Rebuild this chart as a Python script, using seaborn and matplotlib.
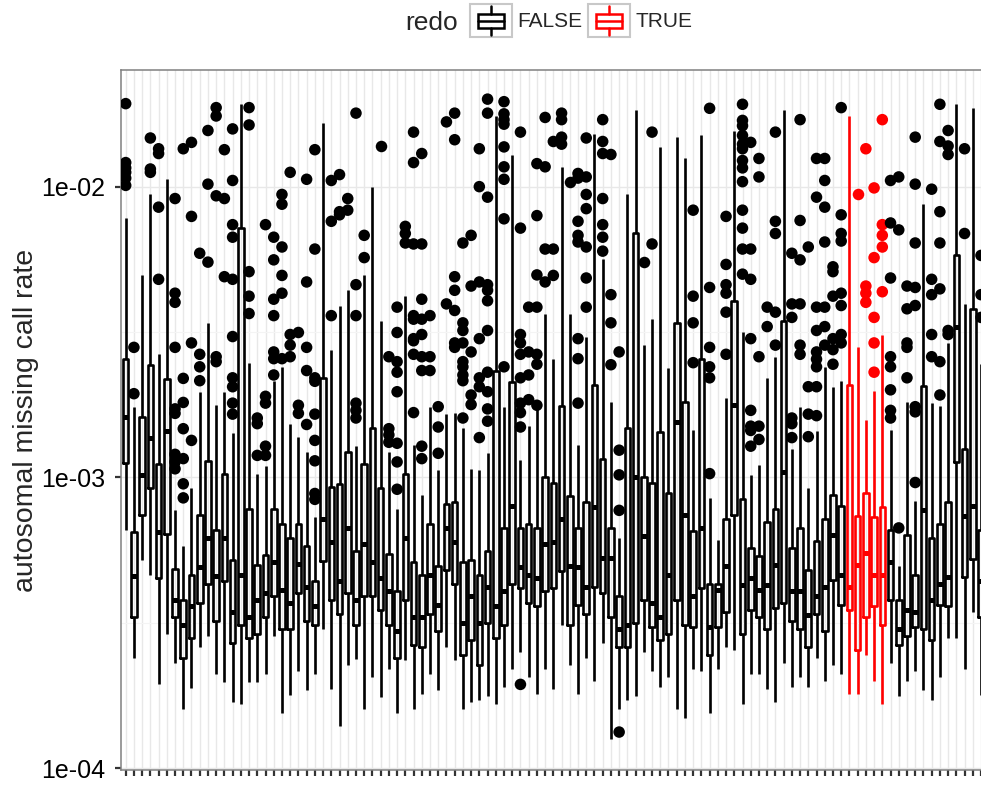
import numpy as np
import pandas as pd
import matplotlib
matplotlib.use("Agg")
import matplotlib.pyplot as plt
import seaborn as sns
from matplotlib.patches import Patch, Rectangle
from matplotlib.lines import Line2D
from matplotlib.legend_handler import HandlerBase
from matplotlib.ticker import FixedLocator, NullFormatter

# ---------------- data ----------------
batches = [f"batch{i + 1:03d}" for i in range(105)]
redo = ["FALSE"] * 88 + ["TRUE"] * 5 + ["FALSE"] * 12

whisker_high = [
    7.8e-3, 1.75e-3, 4.98e-3, 9.4e-3, 2.65e-3, 1.06e-2, 7.7e-4, 5.8e-4, 9.2e-4, 1.97e-3,
    3.4e-3, 1.77e-3, 1.96e-3, 1.42e-3, 1.92e-2, 2.48e-3, 1.03e-3, 1.09e-3, 2.15e-3, 2.4e-3,
    1.52e-3, 1.38e-3, 1.22e-3, 7.3e-4, 1.66e-2, 2.75e-3, 3.9e-3, 4.4e-3, 1.28e-3, 4.98e-3,
    1.0e-2, 3.45e-3, 1.22e-3, 7.8e-4, 4.2e-3, 1.29e-3, 8.7e-4, 1.74e-3, 1.06e-3, 1.65e-3,
    1.67e-3, 1.48e-3, 1.07e-3, 1.06e-3, 1.21e-3, 1.75e-2, 1.74e-3, 1.28e-2, 1.15e-3, 1.5e-3,
    1.72e-3, 3.65e-3, 2.56e-3, 1.17e-2, 3.65e-3, 1.29e-3, 3.05e-3, 1.52e-2, 5.65e-3, 1.82e-3,
    6.2e-4, 9.4e-3, 1.84e-2, 2.85e-3, 3.5e-3, 1.37e-2, 2.37e-3, 1.48e-2, 1.25e-2, 1.46e-3,
    1.5e-2, 8.5e-4, 6.1e-4, 1.88e-3, 1.56e-2, 3.15e-3, 1.02e-3, 1.1e-3, 2.2e-3, 2.6e-3,
    1.83e-2, 1.25e-3, 1.74e-3, 9.2e-4, 1.44e-3, 2.4e-3, 2.05e-3, 2.15e-3, 1.75e-2, 2.8e-3,
    1.58e-3, 1.98e-3, 3.1e-3, 1.46e-3, 4.95e-4, 1.82e-3, 8.3e-4, 8.7e-3, 1.8e-3, 1.76e-3,
    2.9e-3, 1.92e-2, 3.95e-3, 1.86e-2, 2.45e-3,
]
upper_quartile = [
    2.56e-3, 6.5e-4, 1.61e-3, 2.43e-3, 1.11e-3, 2.18e-3, 4.85e-4, 3.8e-4, 4.6e-4, 7.4e-4,
    1.14e-3, 6.6e-4, 1.03e-3, 5.2e-4, 7.2e-3, 7.8e-4, 5.0e-4, 5.4e-4, 7.8e-4, 6.9e-4,
    6.2e-4, 6.9e-4, 5.8e-4, 4.4e-4, 2.2e-3, 9.3e-4, 9.5e-4, 1.22e-3, 5.6e-4, 1.11e-3,
    1.48e-3, 9.2e-4, 5.45e-4, 4.05e-4, 1.03e-3, 5.1e-4, 4.6e-4, 6.9e-4, 4.95e-4, 8.1e-4,
    8.2e-4, 5.1e-4, 5.2e-4, 4.6e-4, 5.6e-4, 2.33e-3, 6.7e-4, 2.12e-3, 6.7e-4, 6.9e-4,
    6.7e-4, 1.0e-3, 9.6e-4, 1.76e-3, 8.6e-4, 6.7e-4, 8.2e-4, 2.08e-3, 1.16e-3, 6.7e-4,
    3.9e-4, 1.48e-3, 6.9e-3, 1.0e-3, 9.6e-4, 1.43e-3, 8.8e-4, 3.4e-3, 1.82e-3, 6.55e-4,
    2.56e-3, 4.3e-4, 4.3e-4, 7.2e-4, 4.05e-3, 8.4e-4, 5.7e-4, 5.35e-4, 7.0e-4, 7.8e-4,
    3.45e-3, 5.7e-4, 6.7e-4, 4.8e-4, 6.05e-4, 7.2e-4, 8.7e-4, 8.0e-4, 2.08e-3, 7.35e-4,
    8.85e-4, 7.3e-4, 7.9e-4, 6.6e-4, 3.8e-4, 6.35e-4, 4.6e-4, 2.06e-3, 6.2e-4, 6.9e-4,
    8.2e-4, 5.8e-3, 1.25e-3, 3.8e-3, 6.6e-4,
]
median = [
    1.61e-3, 4.56e-4, 1.02e-3, 1.37e-3, 6.5e-4, 1.44e-3, 3.8e-4, 3.1e-4, 3.6e-4, 4.9e-4,
    6.2e-4, 4.56e-4, 6.2e-4, 3.45e-4, 4.6e-4, 3.3e-4, 3.8e-4, 4.0e-4, 5.1e-4, 4.1e-4,
    3.7e-4, 5.05e-4, 4.2e-4, 3.6e-4, 7.2e-4, 6.0e-4, 4.4e-4, 6.7e-4, 3.8e-4, 5.9e-4,
    5.1e-4, 4.5e-4, 4.05e-4, 2.95e-4, 6.2e-4, 3.3e-4, 3.3e-4, 4.6e-4, 3.65e-4, 6.7e-4,
    6.0e-4, 3.15e-4, 3.9e-4, 3.15e-4, 4.2e-4, 3.6e-4, 4.05e-4, 8.0e-4, 4.9e-4, 4.6e-4,
    4.5e-4, 5.9e-4, 6.0e-4, 7.2e-4, 4.95e-4, 4.9e-4, 4.2e-4, 7.9e-4, 5.3e-4, 5.3e-4,
    3.0e-4, 3.1e-4, 1.0e-3, 6.3e-4, 3.7e-4, 3.3e-4, 4.6e-4, 1.55e-3, 7.4e-4, 3.9e-4,
    6.7e-4, 3.05e-4, 4.1e-4, 4.95e-4, 1.78e-3, 4.25e-4, 4.5e-4, 4.1e-4, 4.25e-4, 5.0e-4,
    1.04e-3, 4.05e-4, 4.05e-4, 3.35e-4, 3.9e-4, 4.2e-4, 6.35e-4, 4.6e-4, 4.2e-4, 5.0e-4,
    5.5e-4, 4.6e-4, 4.6e-4, 5.1e-4, 3.0e-4, 3.5e-4, 3.45e-4, 7.7e-4, 3.8e-4, 4.3e-4,
    4.55e-4, 3.3e-3, 7.35e-4, 8.0e-4, 4.4e-4,
]
lower_quartile = [
    1.12e-3, 3.3e-4, 7.4e-4, 9.2e-4, 4.5e-4, 6.4e-4, 3.3e-4, 2.4e-4, 2.8e-4, 3.7e-4,
    4.3e-4, 3.2e-4, 4.4e-4, 2.7e-4, 3.1e-4, 2.8e-4, 2.9e-4, 3.3e-4, 3.9e-4, 3.0e-4,
    3.0e-4, 4.0e-4, 3.2e-4, 3.1e-4, 5.15e-4, 3.8e-4, 3.4e-4, 4.0e-4, 3.1e-4, 3.9e-4,
    3.9e-4, 3.5e-4, 3.1e-4, 2.4e-4, 3.8e-4, 2.65e-4, 2.6e-4, 3.4e-4, 2.95e-4, 4.8e-4,
    4.3e-4, 2.45e-4, 2.75e-4, 2.27e-4, 3.15e-4, 2.8e-4, 3.1e-4, 4.3e-4, 4.15e-4, 3.7e-4,
    3.6e-4, 4.05e-4, 4.15e-4, 4.75e-4, 3.1e-4, 3.65e-4, 3.4e-4, 4.2e-4, 4.0e-4, 3.3e-4,
    2.6e-4, 2.6e-4, 3.15e-4, 3.8e-4, 3.05e-4, 2.75e-4, 2.9e-4, 3.8e-4, 3.1e-4, 3.05e-4,
    4.15e-4, 2.45e-4, 3.05e-4, 3.45e-4, 7.4e-4, 2.9e-4, 3.5e-4, 3.3e-4, 3.0e-4, 3.55e-4,
    3.7e-4, 3.2e-4, 3.0e-4, 2.6e-4, 3.4e-4, 2.95e-4, 4.45e-4, 3.65e-4, 3.5e-4, 2.55e-4,
    3.3e-4, 3.6e-4, 3.1e-4, 3.8e-4, 2.65e-4, 2.85e-4, 3.05e-4, 3.0e-4, 2.75e-4, 3.65e-4,
    3.6e-4, 1.13e-3, 4.55e-4, 5.25e-4, 3.3e-4,
]
whisker_low = [
    6.6e-4, 2.4e-4, 5.2e-4, 4.6e-4, 1.94e-4, 2.9e-4, 2.3e-4, 1.6e-4, 1.88e-4, 2.6e-4,
    2.85e-4, 2.1e-4, 1.97e-4, 1.69e-4, 1.66e-4, 1.97e-4, 1.97e-4, 2.1e-4, 2.85e-4, 1.55e-4,
    1.79e-4, 2.15e-4, 1.85e-4, 2.1e-4, 3.0e-4, 1.87e-4, 1.39e-4, 2.27e-4, 2.37e-4, 1.6e-4,
    2.05e-4, 1.75e-4, 2.2e-4, 1.55e-4, 2.35e-4, 1.6e-4, 1.8e-4, 2.1e-4, 1.85e-4, 2.6e-4,
    2.35e-4, 1.6e-4, 1.69e-4, 1.72e-4, 1.77e-4, 1.66e-4, 1.9e-4, 2.2e-4, 2.5e-4, 2.05e-4,
    1.8e-4, 2.2e-4, 1.87e-4, 3.1e-4, 2.27e-4, 1.8e-4, 2.4e-4, 2.0e-4, 2.7e-4, 1.26e-4,
    1.6e-4, 1.72e-4, 1.77e-4, 2.5e-4, 2.15e-4, 1.9e-4, 2.05e-4, 1.6e-4, 1.49e-4, 2.2e-4,
    2.15e-4, 1.55e-4, 2.2e-4, 2.6e-4, 2.55e-4, 1.66e-4, 2.1e-4, 2.1e-4, 1.87e-4, 1.69e-4,
    2.3e-4, 1.9e-4, 2.05e-4, 1.9e-4, 2.4e-4, 2.0e-4, 2.27e-4, 2.1e-4, 1.8e-4, 1.8e-4,
    2.45e-4, 2.0e-4, 1.66e-4, 2.3e-4, 1.77e-4, 2.0e-4, 2.15e-4, 1.85e-4, 1.71e-4, 2.05e-4,
    2.8e-4, 2.8e-4, 2.2e-4, 3.45e-4, 1.79e-4,
]
outliers = [
    [1.93e-2, 1.21e-2, 1.16e-2, 1.12e-2, 1.07e-2, 1.01e-2],
    [2.8e-3, 1.94e-3],
    [],
    [1.47e-2, 1.15e-2, 1.12e-2],
    [1.35e-2, 1.3e-2, 8.5e-3, 4.8e-3],
    [],
    [9.1e-3, 4.3e-3, 4.0e-3, 2.8e-3, 1.72e-3, 1.66e-3, 1.2e-3, 1.13e-3, 1.07e-3],
    [1.35e-2, 2.19e-3, 1.81e-3, 1.47e-3, 1.16e-3, 9.5e-4, 8.5e-4],
    [1.42e-2, 7.9e-3, 2.9e-3, 1.34e-3],
    [5.9e-3, 2.65e-3, 2.4e-3, 2.15e-3],
    [1.56e-2, 1.02e-2, 5.5e-3],
    [1.87e-2, 1.75e-2, 9.3e-3, 2.6e-3, 2.5e-3],
    [1.34e-2, 9.1e-3, 4.9e-3],
    [1.58e-2, 1.05e-2, 7.4e-3, 6.7e-3, 4.8e-3, 3.05e-3, 2.2e-3, 2.05e-3, 1.8e-3, 1.65e-3],
    [],
    [1.87e-2, 1.63e-2, 5.1e-3, 4.2e-3, 3.66e-3],
    [1.6e-3, 1.53e-3, 1.19e-3],
    [7.4e-3, 1.9e-3, 1.8e-3, 1.28e-3, 1.19e-3],
    [6.7e-3, 5.6e-3, 4.1e-3, 3.6e-3, 2.7e-3, 2.56e-3, 2.25e-3],
    [9.4e-3, 8.7e-3, 6.2e-3, 4.95e-3, 4.3e-3, 2.56e-3],
    [1.12e-2, 3.1e-3, 2.85e-3, 2.6e-3],
    [3.15e-3, 1.77e-3, 1.66e-3],
    [1.06e-2, 4.7e-3, 2.8e-3, 2.33e-3, 1.52e-3],
    [1.34e-2, 6.1e-3, 2.2e-3, 2.14e-3, 1.65e-3, 1.34e-3, 1.14e-3, 8.8e-4, 8.4e-4],
    [],
    [1.05e-2, 7.6e-3, 3.6e-3],
    [1.1e-2, 8.2e-3, 8.0e-3],
    [9.1e-3, 8.3e-3],
    [1.79e-2, 4.6e-3, 3.6e-3, 1.8e-3, 1.7e-3, 1.6e-3],
    [6.8e-3, 5.7e-3],
    [],
    [1.38e-2],
    [2.6e-3, 1.47e-3, 1.4e-3, 1.32e-3],
    [3.85e-3, 3.15e-3, 2.5e-3, 2.3e-3, 1.97e-3, 1.31e-3, 1.13e-3, 9.1e-4],
    [7.3e-3, 6.9e-3, 6.4e-3],
    [1.54e-2, 1.21e-2, 6.35e-3, 3.6e-3, 3.5e-3, 3.0e-3, 2.95e-3, 2.65e-3, 1.67e-3],
    [1.3e-2, 6.35e-3, 4.1e-3, 3.5e-3, 3.1e-3, 2.6e-3, 2.33e-3, 1.28e-3, 1.16e-3],
    [3.6e-3, 2.6e-3, 2.33e-3],
    [1.75e-3, 1.49e-3, 1.21e-3],
    [1.67e-2, 3.95e-3],
    [1.79e-2, 1.45e-2, 4.9e-3, 4.4e-3, 3.75e-3, 2.9e-3, 2.8e-3],
    [6.4e-3, 3.4e-3, 3.2e-3, 2.9e-3, 2.5e-3, 2.4e-3, 2.25e-3, 2.15e-3, 1.6e-3],
    [6.8e-3, 4.55e-3, 2.7e-3, 1.92e-3, 1.78e-3],
    [1.35e-2, 1.0e-2, 4.7e-3, 3.0e-3, 2.2e-3, 2.05e-3, 1.37e-3],
    [2.0e-2, 1.79e-2, 9.2e-3, 4.6e-3, 4.4e-3, 4.05e-3, 3.2e-3, 2.3e-3, 1.97e-3, 1.72e-3, 1.56e-3],
    [],
    [1.96e-2, 1.78e-2, 1.7e-2, 1.64e-2, 1.37e-2, 1.17e-2, 1.06e-2, 7.75e-3, 2.4e-3],
    [],
    [1.54e-2, 7.2e-3, 3.1e-3, 2.9e-3, 2.65e-3, 2.2e-3, 1.8e-3, 1.67e-3, 1.49e-3, 1.94e-4],
    [3.85e-3, 2.7e-3, 2.25e-3, 1.85e-3],
    [1.2e-2, 7.95e-3, 4.97e-3, 3.85e-3, 2.65e-3, 2.45e-3, 1.77e-3],
    [1.73e-2, 1.17e-2, 6.1e-3, 4.7e-3],
    [1.43e-2, 6.1e-3, 4.95e-3],
    [1.79e-2, 1.7e-2, 1.48e-2, 1.4e-2],
    [1.04e-2],
    [1.11e-2, 1.07e-2, 7.6e-3, 6.8e-3, 6.45e-3, 3.0e-3, 2.56e-3, 1.8e-3],
    [1.47e-2, 1.08e-2, 9.4e-3, 8.4e-3, 6.2e-3, 4.85e-3, 3.85e-3],
    [],
    [1.7e-2, 1.43e-2, 1.3e-2, 9.1e-3, 7.4e-3, 6.7e-3, 6.0e-3],
    [1.29e-2, 4.25e-3, 3.4e-3, 2.44e-3],
    [2.7e-3, 1.24e-3, 1.02e-3, 7.7e-4, 1.33e-4],
    [],
    [],
    [5.5e-3],
    [1.54e-2, 6.35e-3],
    [],
    [],
    [],
    [],
    [8.3e-3, 4.2e-3, 3.4e-3, 2.48e-3],
    [],
    [1.86e-2, 4.5e-3, 2.8e-3, 2.4e-3, 2.2e-3, 1.03e-3],
    [],
    [7.9e-3, 5.4e-3, 4.6e-3, 4.3e-3, 3.7e-3, 2.65e-3],
    [],
    [1.92e-2, 1.69e-2, 1.62e-2, 1.5e-2, 1.4e-2, 1.35e-2, 1.23e-2, 1.16e-2, 1.04e-2, 8.3e-3,
     7.2e-3, 6.1e-3, 5.0e-3],
    [1.42e-2, 6.1e-3, 4.8e-3, 3.0e-3, 1.7e-3, 1.5e-3, 1.45e-3, 1.28e-3],
    [1.25e-2, 1.08e-2, 2.6e-3, 1.5e-3, 1.35e-3],
    [3.85e-3, 3.3e-3],
    [1.54e-2, 7.6e-3, 6.9e-3, 3.7e-3, 2.85e-3],
    [],
    [5.9e-3, 3.95e-3, 3.55e-3, 1.6e-3, 1.53e-3, 1.37e-3],
    [1.7e-2, 7.65e-3, 5.6e-3, 3.95e-3, 2.85e-3, 2.65e-3],
    [6.2e-3, 2.05e-3, 1.65e-3, 1.38e-3],
    [1.25e-2, 9.2e-3, 3.85e-3, 3.2e-3, 2.7e-3, 2.55e-3, 2.4e-3, 2.05e-3, 1.63e-3],
    [1.25e-2, 1.05e-2, 8.5e-3, 6.45e-3, 3.85e-3, 3.3e-3, 2.85e-3],
    [5.3e-3, 5.1e-3, 4.2e-3, 3.0e-3, 2.75e-3, 2.45e-3],
    [1.87e-2, 8.0e-3, 6.9e-3, 6.5e-3, 4.3e-3, 3.9e-3, 3.1e-3, 2.9e-3],
    [],
    [9.4e-3],
    [1.35e-2, 4.55e-3, 4.3e-3, 4.0e-3],
    [9.9e-3, 5.7e-3, 3.55e-3, 2.9e-3, 2.3e-3],
    [1.7e-2, 7.4e-3, 6.8e-3, 6.2e-3, 4.35e-3],
    [1.05e-2, 7.5e-3, 4.85e-3, 2.6e-3, 2.4e-3, 2.0e-3, 1.7e-3, 1.6e-3],
    [1.08e-2, 7.1e-3, 6.7e-4],
    [4.55e-3, 3.8e-3, 2.9e-3, 2.8e-3, 2.2e-3],
    [1.48e-2, 1.02e-2, 6.4e-3, 4.5e-3, 3.9e-3, 1.75e-3, 1.68e-3, 9.6e-4],
    [],
    [9.8e-3, 4.8e-3, 4.25e-3, 3.1e-3, 2.6e-3],
    [1.92e-2, 1.43e-2, 8.2e-3, 6.4e-3, 4.45e-3, 2.5e-3, 1.92e-3],
    [1.56e-2, 1.38e-2, 1.29e-2, 3.2e-3, 3.1e-3],
    [],
    [1.35e-2, 6.9e-3],
    [],
    [5.8e-3, 4.25e-3, 3.55e-3],
]
redo_levels = ["FALSE", "TRUE"]
redo_colors = ["black", "red"]

# ---------------- tables for seaborn ----------------
box_rows = []
for b, r, lo, q1, m, q3, hi in zip(batches, redo, whisker_low, lower_quartile,
                                   median, upper_quartile, whisker_high):
    for v in (lo, q1, m, q3, hi):
        box_rows.append((b, r, v))
box_df = pd.DataFrame(box_rows, columns=["batch", "redo", "rate"])
out_df = pd.DataFrame([(b, r, v) for b, r, vals in zip(batches, redo, outliers) for v in vals],
                      columns=["batch", "redo", "rate"])
palette = dict(zip(redo_levels, redo_colors))

# ---------------- style ----------------
sns.set_style("white")
plt.rcParams["font.family"] = ["Liberation Sans", "DejaVu Sans"]

fig = plt.figure(figsize=(9.81, 7.86), dpi=100)
ax = fig.add_axes([0.1231, 0.0204, 0.8769, 0.8906])

sns.boxplot(data=box_df, x="batch", y="rate", hue="redo", order=batches,
            hue_order=redo_levels, palette=palette, dodge=False, fill=False,
            width=0.68, whis=np.inf, showfliers=False, showcaps=False,
            linewidth=1.9, medianprops={"linewidth": 3.6, "solid_capstyle": "butt"},
            log_scale=True, legend=False, ax=ax)
sns.stripplot(data=out_df, x="batch", y="rate", hue="redo", order=batches,
              hue_order=redo_levels, palette=palette, jitter=False, dodge=False,
              size=8.3, linewidth=0, log_scale=True, legend=False, ax=ax, zorder=3)

ax.set_xlim(-0.6, 103.73)
ax.set_ylim(9.85e-5, 2.52e-2)
ax.set_yticks([1e-4, 1e-3, 1e-2])
ax.set_yticklabels(["1e-04", "1e-03", "1e-02"])
ax.yaxis.set_minor_locator(FixedLocator([3.1623e-4, 3.1623e-3]))
ax.yaxis.set_minor_formatter(NullFormatter())
ax.tick_params(axis="y", which="minor", length=0, left=False)
ax.set_xticks(range(len(batches)))
ax.set_xticklabels([])
ax.grid(which="major", axis="both", color="#e8e8e8", linewidth=1.0)
ax.grid(which="minor", axis="y", color="#f4f4f4", linewidth=0.8)
ax.set_axisbelow(True)
ax.tick_params(axis="both", which="major", bottom=True, left=True, length=4, width=1.6,
               color="#333333", labelsize=18, labelcolor="black", pad=7)
for s in ["left", "top", "bottom"]:
    ax.spines[s].set_color("#808080")
    ax.spines[s].set_linewidth(1.1)
ax.spines["right"].set_visible(False)
ax.set_xlabel("")
ax.set_ylabel("autosomal missing call rate", fontsize=20.5)
ax.yaxis.set_label_coords(-0.0951, 0.5)


# ---------------- legend ----------------
class BoxKey(HandlerBase):
    def create_artists(self, legend, orig_handle, xdescent, ydescent, width, height,
                       fontsize, trans):
        col = orig_handle.get_edgecolor()
        x0, y0 = -xdescent, -ydescent
        bg = Rectangle((x0, y0), width, height, facecolor="white", edgecolor="#c8c8c8",
                       lw=1.5, transform=trans)
        cx = x0 + width / 2
        bw = 0.64 * width
        box = Rectangle((cx - bw / 2, y0 + 0.27 * height), bw, 0.43 * height,
                        facecolor="none", edgecolor=col, lw=1.8, transform=trans)
        med = Line2D([cx - bw / 2, cx + bw / 2], [y0 + 0.485 * height] * 2, color=col,
                     lw=1.8, transform=trans)
        w1 = Line2D([cx, cx], [y0 + 0.08 * height, y0 + 0.27 * height], color=col,
                    lw=1.8, transform=trans)
        w2 = Line2D([cx, cx], [y0 + 0.70 * height, y0 + 0.92 * height], color=col,
                    lw=1.8, transform=trans)
        return [bg, box, med, w1, w2]


handles = [Patch(facecolor="none", edgecolor=c, label=l)
           for l, c in zip(redo_levels, redo_colors)]
fig.text(405 / 981, 1 - 30 / 786, "redo", fontsize=19, ha="left", va="baseline")
fig.legend(handles=handles, labels=redo_levels, handler_map={Patch: BoxKey()},
           loc="center left", bbox_to_anchor=(470 / 981, 1 - 20.5 / 786),
           bbox_transform=fig.transFigure, ncol=2, frameon=False, fontsize=15,
           handlelength=2.0, handleheight=2.1, handletextpad=0.25,
           columnspacing=0.3, borderpad=0, borderaxespad=0)

fig.savefig("out.png", dpi=100)
